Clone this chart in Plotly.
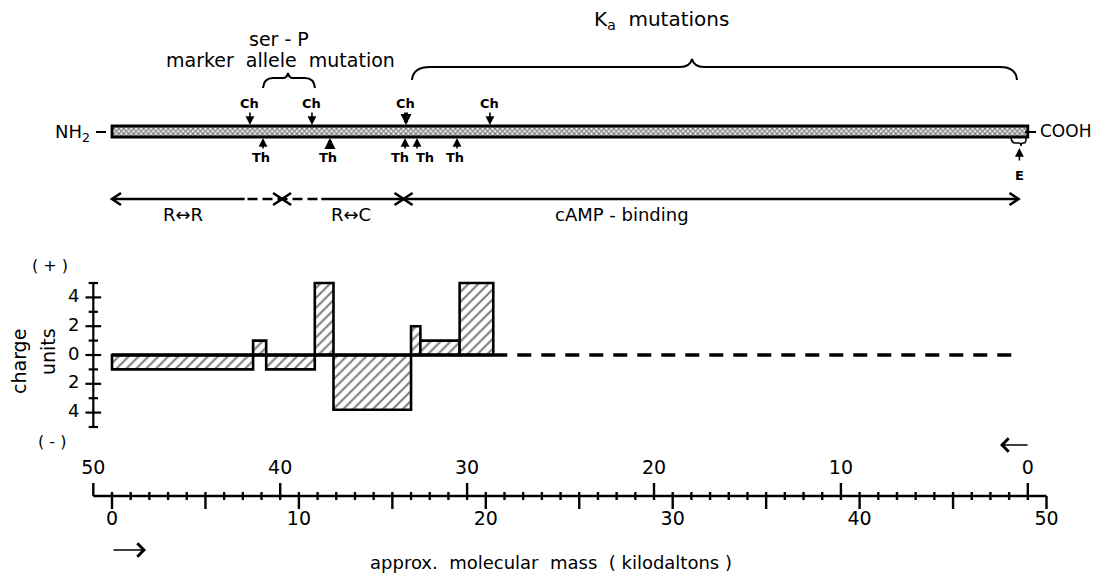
import plotly.graph_objects as go

# ---------------- data ----------------
bar_edges_kda = [0.0, 7.55, 8.25, 10.85, 11.85, 16.0, 16.5, 18.6, 20.4]
bar_charge = [-1.0, 1.0, -1.0, 5.0, -3.8, 2.0, 1.0, 5.0]
dash_extent_kda = [20.4, 48.6]
protein_kda = [0.0, 49.0]
ch_sites_kda = [7.38, 10.70, 15.73, 20.22]
ch_major = [0, 0, 1, 0]
th_sites_kda = [8.08, 11.66, 15.68, 16.32, 18.46]
th_major = [0, 1, 0, 0, 0]
e_site_kda = 48.55
domain_bounds_kda = [0.0, 9.1, 15.6, 48.5]
domain_names = ["R↔R", "R↔C", "cAMP - binding"]
domain_label_kda = [3.8, 12.8, 27.3]
uncertain_span_kda = [7.1, 11.2]
charge_major = [4, 2, 0, -2, -4]
charge_major_labels = ["4", "2", "0", "2", "4"]
charge_minor = [5, 3, 1, -1, -3, -5]
mass_labels_lower = [0, 10, 20, 30, 40, 50]
mass_labels_upper = [50, 40, 30, 20, 10, 0]
upper_offset_kda = 49  # position of upper-scale value v is 49 - v on the lower scale

# ---------------- geometry / style ----------------
W, H = 1094, 575
X0, SX = 112.0, 18.69      # px of 0 kDa, px per kDa
Y0, SY = 355.0, 14.4       # px of 0 charge, px per charge unit
FONT = "DejaVu Sans, Liberation Sans, sans-serif"
INK = "black"

fig = go.Figure()

# dummy trace to create the pixel-space decoration subplot
fig.add_trace(go.Scatter(x=[0], y=[0], xaxis="x2", yaxis="y2", mode="markers",
                         marker=dict(opacity=0), hoverinfo="skip", showlegend=False))

# ---- protein bar (hatched) ----
fig.add_trace(go.Bar(
    x=[protein_kda[1] - protein_kda[0]], base=[protein_kda[0]], y=[131.5], width=[11],
    orientation="h", xaxis="x", yaxis="y2", showlegend=False, hoverinfo="skip",
    marker=dict(color="white", line=dict(color=INK, width=2.8),
                pattern=dict(shape="x", fgcolor=INK, bgcolor="white", size=3.5, solidity=0.6))))

# ---- charge bars ----
centers = [(a + b) / 2 for a, b in zip(bar_edges_kda[:-1], bar_edges_kda[1:])]
widths = [b - a for a, b in zip(bar_edges_kda[:-1], bar_edges_kda[1:])]
fig.add_trace(go.Bar(
    x=centers, y=bar_charge, width=widths, base=0, xaxis="x", yaxis="y",
    showlegend=False, hoverinfo="skip",
    marker=dict(color="white", line=dict(color=INK, width=2.6),
                pattern=dict(shape="/", fgcolor=INK, bgcolor="white", size=7, solidity=0.3))))

# zero line: solid under bars, dashed beyond
fig.add_trace(go.Scatter(x=[bar_edges_kda[0], bar_edges_kda[-1]], y=[0, 0], mode="lines",
                         line=dict(color=INK, width=3.5), showlegend=False, hoverinfo="skip"))
fig.add_trace(go.Scatter(x=dash_extent_kda, y=[0, 0], mode="lines",
                         line=dict(color=INK, width=3.5, dash="14px,10px"),
                         showlegend=False, hoverinfo="skip"))

# ---- charge axis (vertical line with crossing ticks) ----
AXK = -1.0
tx, ty = [AXK, AXK, None], [-5.0, 5.05, None]
for v in charge_major:
    tx += [AXK - 0.42, AXK + 0.42, None]
    ty += [v, v, None]
for v in charge_minor:
    tx += [AXK - 0.25, AXK + 0.25, None]
    ty += [v, v, None]
fig.add_trace(go.Scatter(x=tx, y=ty, mode="lines", line=dict(color=INK, width=2.2),
                         showlegend=False, hoverinfo="skip"))
fig.add_trace(go.Scatter(x=[-2.05] * len(charge_major), y=charge_major, mode="text",
                         text=charge_major_labels, textposition="middle center",
                         textfont=dict(size=18, color=INK, family=FONT),
                         showlegend=False, hoverinfo="skip"))

# ---- mass axis (dual scale) ----
AY = 496
mx, my = [-1, 50, None, -1, -1, None, 50, 50, None], [AY, AY, None, AY, AY - 13, None, AY, AY + 13, None]
for b in range(0, 50):
    if b % 5 == 0:
        mx += [b, b, None]; my += [AY - 4, AY + 13, None]
    elif (upper_offset_kda - b) % 10 == 0:
        mx += [b, b, None]; my += [AY - 13, AY + 4, None]
    else:
        mx += [b, b, None]; my += [AY - 4, AY + 4, None]
fig.add_trace(go.Scatter(x=mx, y=my, mode="lines", xaxis="x", yaxis="y2",
                         line=dict(color=INK, width=2.4), showlegend=False, hoverinfo="skip"))
fig.add_trace(go.Scatter(x=mass_labels_lower, y=[520] * len(mass_labels_lower), mode="text",
                         text=[str(v) for v in mass_labels_lower], xaxis="x", yaxis="y2",
                         textfont=dict(size=19, color=INK, family=FONT),
                         showlegend=False, hoverinfo="skip"))
fig.add_trace(go.Scatter(x=[upper_offset_kda - v for v in mass_labels_upper],
                         y=[469] * len(mass_labels_upper), mode="text",
                         text=[str(v) for v in mass_labels_upper], xaxis="x", yaxis="y2",
                         textfont=dict(size=19, color=INK, family=FONT),
                         showlegend=False, hoverinfo="skip"))

# ---- domain arrows row ----
DY = 199
HK = 9 / SX  # arrowhead length in kDa
fig.add_trace(go.Scatter(x=[domain_bounds_kda[0], uncertain_span_kda[0], None,
                            uncertain_span_kda[1], domain_bounds_kda[-1]],
                         y=[DY, DY, None, DY, DY], mode="lines", xaxis="x", yaxis="y2",
                         line=dict(color=INK, width=2.6), showlegend=False, hoverinfo="skip"))
fig.add_trace(go.Scatter(x=[uncertain_span_kda[0] + 0.15, uncertain_span_kda[1] - 0.1], y=[DY, DY],
                         mode="lines", xaxis="x", yaxis="y2",
                         line=dict(color=INK, width=2.6, dash="10px,5px"),
                         showlegend=False, hoverinfo="skip"))
hx, hy = [], []
for i, k in enumerate(domain_bounds_kda):
    if i > 0:  # head pointing right (end of previous domain)
        hx += [k - HK, k, k - HK, None]; hy += [DY - 6, DY, DY + 6, None]
    if i < len(domain_bounds_kda) - 1:  # head pointing left (start of next domain)
        hx += [k + HK, k, k + HK, None]; hy += [DY - 6, DY, DY + 6, None]
fig.add_trace(go.Scatter(x=hx, y=hy, mode="lines", xaxis="x", yaxis="y2",
                         line=dict(color=INK, width=2.6), showlegend=False, hoverinfo="skip"))

ann = []
for name, k in zip(domain_names, domain_label_kda):
    ann.append(dict(x=k, y=214, xref="x", yref="y2", text=name, showarrow=False,
                    font=dict(size=18, family=FONT, color=INK)))

# ---- cleavage site arrows ----
for k, big in zip(ch_sites_kda, ch_major):
    ann.append(dict(x=k, y=125, xref="x", yref="y2", ax=0, ay=-14, text="", showarrow=True,
                    arrowhead=2, arrowsize=0.55 if big else 1.1, arrowwidth=4 if big else 1.6,
                    arrowcolor=INK, standoff=0))
    ann.append(dict(x=k, y=103, xref="x", yref="y2", text="<b>Ch</b>", showarrow=False,
                    font=dict(size=13, family=FONT, color=INK)))
th_label_dx = [-2, -2, -5, 8, -2]
for k, big, dx in zip(th_sites_kda, th_major, th_label_dx):
    ann.append(dict(x=k, y=138, xref="x", yref="y2", ax=0, ay=12, text="", showarrow=True,
                    arrowhead=2, arrowsize=0.55 if big else 1.1, arrowwidth=4 if big else 1.6,
                    arrowcolor=INK, standoff=0))
    ann.append(dict(x=k, y=157, xref="x", yref="y2", xshift=dx, text="<b>Th</b>", showarrow=False,
                    font=dict(size=13, family=FONT, color=INK)))
ann.append(dict(x=e_site_kda, y=148, xref="x", yref="y2", ax=0, ay=14, text="", showarrow=True,
                arrowhead=2, arrowsize=1.1, arrowwidth=1.6, arrowcolor=INK, standoff=0))
ann.append(dict(x=e_site_kda, y=175, xref="x", yref="y2", text="<b>E</b>", showarrow=False,
                font=dict(size=13, family=FONT, color=INK)))

# ---- decorative text (pixel coordinates) ----
def txt(x, y, s, size=18, **kw):
    d = dict(x=x, y=y, xref="x2", yref="y2", text=s, showarrow=False,
             font=dict(size=size, family=FONT, color=INK))
    d.update(kw)
    ann.append(d)

txt(592, 20, "K<sub>a</sub>  mutations", 20, xanchor="left")
txt(279, 39, "ser - P", 19)
txt(280, 60, "marker  allele  mutation", 19)
txt(92, 133, "NH<sub>2</sub>", 18, xanchor="right")
txt(1038, 131, "COOH", 17, xanchor="left")
txt(50, 265, "( + )", 16)
txt(52, 441, "( - )", 16)
txt(19, 362, "charge", 19, textangle=-90)
txt(48, 352, "units", 19, textangle=-90)
txt(551, 562, "approx.  molecular  mass  ( kilodaltons )", 18)

# direction arrows near the mass axis
ann.append(dict(x=146, y=550, xref="x2", yref="y2", ax=112, ay=550, axref="x2", ayref="y2",
                text="", showarrow=True, arrowhead=4, arrowsize=1.6, arrowwidth=1.6,
                arrowcolor=INK, standoff=0))
ann.append(dict(x=1000, y=445, xref="x2", yref="y2", ax=1029, ay=445, axref="x2", ayref="y2",
                text="", showarrow=True, arrowhead=4, arrowsize=1.6, arrowwidth=1.6,
                arrowcolor=INK, standoff=0))

# ---- shapes: braces, terminal dashes ----
shapes = []
def path(d, w=2):
    shapes.append(dict(type="path", path=d, xref="x2", yref="y2", line=dict(color=INK, width=w)))

path("M 412,80 Q 413,67 430,67 L 680,67 Q 690,67 692,59 Q 694,67 704,67 L 1000,67 Q 1016,67 1017,80")
path("M 263,88 Q 264,78 273,78 L 283,78 Q 287,78 288,73 Q 289,78 293,78 L 305,78 Q 314,78 315,88")
path("M 1011,138 Q 1012,143 1015,143 L 1019,143 Q 1021,143 1021,146 Q 1021,143 1023,143 L 1024,143 Q 1026,143 1026,138", 1.6)
shapes.append(dict(type="line", x0=96, x1=106, y0=132, y1=132, xref="x2", yref="y2",
                   line=dict(color=INK, width=2)))
shapes.append(dict(type="line", x0=1025, x1=1036, y0=132, y1=132, xref="x2", yref="y2",
                   line=dict(color=INK, width=2)))

fig.update_layout(
    width=W, height=H, margin=dict(l=0, r=0, t=0, b=0),
    paper_bgcolor="white", plot_bgcolor="white",
    barmode="overlay", showlegend=False,
    font=dict(family=FONT, color=INK),
    xaxis=dict(range=[-X0 / SX, (W - X0) / SX], visible=False, domain=[0, 1], anchor="y",
               fixedrange=True),
    yaxis=dict(range=[-(H - Y0) / SY, Y0 / SY], visible=False, domain=[0, 1], anchor="x",
               fixedrange=True),
    xaxis2=dict(range=[0, W], visible=False, overlaying="x", anchor="y2", fixedrange=True),
    yaxis2=dict(range=[H, 0], visible=False, overlaying="y", anchor="x", fixedrange=True),
    annotations=ann, shapes=shapes,
)

fig.write_html("out.html", config={"displayModeBar": False},
               post_script="document.body.style.margin='0';document.body.style.overflow='hidden';")
